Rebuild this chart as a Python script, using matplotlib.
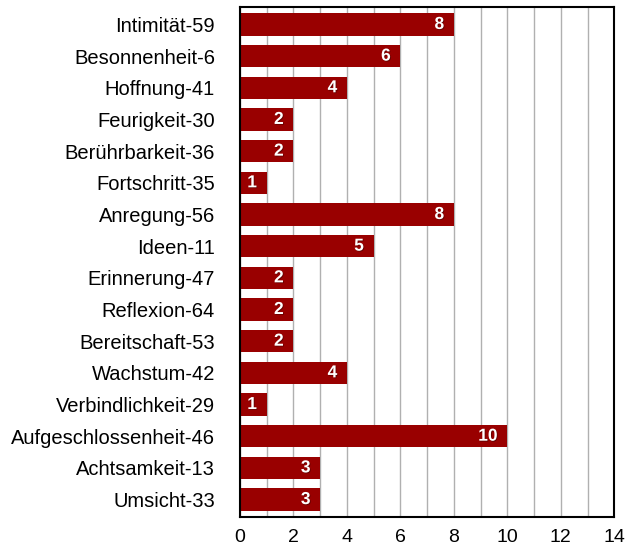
import matplotlib.pyplot as plt
import matplotlib.patheffects as pe

categories = ["Intimität-59", "Besonnenheit-6", "Hoffnung-41", "Feurigkeit-30",
              "Berührbarkeit-36", "Fortschritt-35", "Anregung-56", "Ideen-11",
              "Erinnerung-47", "Reflexion-64", "Bereitschaft-53", "Wachstum-42",
              "Verbindlichkeit-29", "Aufgeschlossenheit-46", "Achtsamkeit-13", "Umsicht-33"]
values = [8, 6, 4, 2, 2, 1, 8, 5, 2, 2, 2, 4, 1, 10, 3, 3]

plt.rcParams['font.family'] = ['Liberation Sans', 'DejaVu Sans']

fig = plt.figure(figsize=(6.3, 5.48), dpi=100)
ax = fig.add_axes([0.381, 0.0566, 0.594, 0.9306])

pos = list(range(len(categories)))
ax.barh(pos, values, height=0.7, color="#990000", zorder=2)
for p, v in zip(pos, values):
    ax.annotate(str(v), (v, p), xytext=(-7, 0), textcoords="offset points",
                ha="right", va="center", color="white",
                fontsize=12.5, fontweight="bold", zorder=3,
                path_effects=[pe.withSimplePatchShadow(offset=(0.6, -0.6), shadow_rgbFace="black", alpha=0.35)])

ax.set_xlim(0, 14)
ax.set_ylim(len(categories) - 0.45, -0.55)
ax.set_xticks(range(0, 15, 2))
ax.set_xticks(range(0, 15), minor=True)
ax.set_yticks(pos)
ax.set_yticklabels(categories)
ax.grid(axis="x", which="both", color="#b0b0b0", linewidth=1, zorder=0)
ax.tick_params(axis="both", which="both", length=0)
ax.tick_params(axis="y", labelsize=14.5, pad=18)
ax.tick_params(axis="x", labelsize=14, pad=9)
for s in ax.spines.values():
    s.set_color("black")
    s.set_linewidth(1.5)

fig.savefig("out.png", dpi=100)
